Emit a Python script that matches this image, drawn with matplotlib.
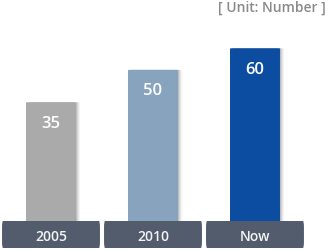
import matplotlib.pyplot as plt
import matplotlib.transforms as mtransforms
from matplotlib.patches import FancyBboxPatch
import numpy as np

categories = ["2005", "2010", "Now"]
values = [35, 50, 60]
bar_colors = ["#aaaaaa", "#88a3bd", "#0c4da2"]
unit_label = "[ Unit: Number ]"

base = -20  # visual baseline of the bars

plt.rcParams['font.family'] = ['Open Sans', 'DejaVu Sans']

fig = plt.figure(figsize=(3.32, 2.51), dpi=100)
ax = fig.add_axes([0, 0, 1, 1])
ax.set_xlim(-0.5, 2.755)
ax.set_ylim(-33.4, 82.8)
ax.axis("off")

x = np.arange(len(categories))
bar_w = 0.49

for xi, v, c in zip(x, values, bar_colors):
    # soft shadow on the right side
    for k, a in enumerate([0.10, 0.08, 0.06, 0.04]):
        ax.add_patch(FancyBboxPatch((xi - bar_w / 2 + 0.01 * (k + 1), base), bar_w, v - base,
                                    boxstyle="round,pad=0,rounding_size=0.03",
                                    mutation_aspect=4.5, fc="#000000", ec="none",
                                    alpha=a, zorder=1))
    ax.add_patch(FancyBboxPatch((xi - bar_w / 2, base), bar_w, v - base,
                                boxstyle="round,pad=0,rounding_size=0.03",
                                mutation_aspect=4.5, fc=c, ec="none", zorder=2))
    # flat bottom
    ax.bar(xi, 5, bottom=base, width=bar_w, color=c, zorder=2)
    ax.text(xi, v - 9.5, str(v), color="white", fontsize=12, fontweight="semibold",
            ha="center", va="center", zorder=3)

# category boxes under the bars
trans = mtransforms.blended_transform_factory(ax.transData, ax.transAxes)
box_w = 0.96
for xi, lab in zip(x, categories):
    ax.add_patch(FancyBboxPatch((xi - box_w / 2, 2 / 251), box_w, 27 / 251,
                                boxstyle="round,pad=0,rounding_size=0.01",
                                mutation_aspect=2.5, fc="#525c6d", ec="none",
                                transform=trans, zorder=4))
    ax.text(xi, 14 / 251, lab, color="#f4f4f4", fontsize=10, fontweight="semibold",
            ha="center", va="center", transform=trans, zorder=5)

fig.text(326 / 332, 1 - 8 / 251, unit_label, color="#8a8a8a", fontsize=10,
         fontweight="semibold", ha="right", va="center")

fig.savefig("out.png", dpi=100)
